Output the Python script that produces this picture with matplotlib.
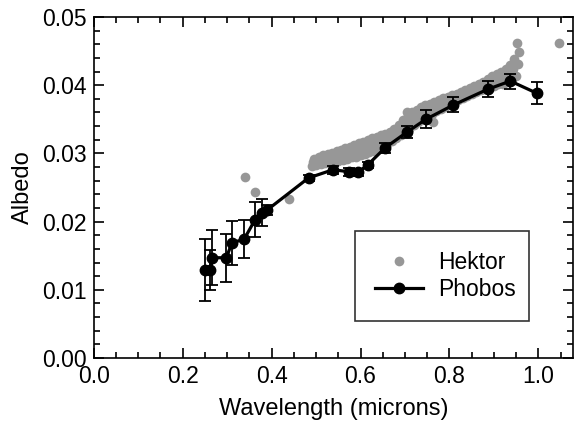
import matplotlib
matplotlib.use("Agg")
import matplotlib.pyplot as plt
from matplotlib.ticker import MultipleLocator

plt.rcParams["font.family"] = ["Liberation Sans", "DejaVu Sans"]

# Phobos spectrum with error bars
phobos_wl = [0.250, 0.262, 0.266, 0.298, 0.311, 0.338, 0.363, 0.378, 0.390,
             0.483, 0.538, 0.575, 0.594, 0.616, 0.655, 0.704, 0.747, 0.809,
             0.886, 0.937, 0.997]
phobos_alb = [0.0129, 0.0129, 0.0147, 0.0147, 0.0169, 0.0174, 0.0203, 0.0213,
              0.0217, 0.0264, 0.0276, 0.0273, 0.0272, 0.0283, 0.0308, 0.0331,
              0.0350, 0.0371, 0.0394, 0.0406, 0.0388]
phobos_err = [0.0046, 0.0030, 0.0040, 0.0035, 0.0032, 0.0028, 0.0026, 0.0020,
              0.0007, 0.0005, 0.0006, 0.0006, 0.0005, 0.0005, 0.0007, 0.0009,
              0.0013, 0.0011, 0.0012, 0.0011, 0.0016]

# Hektor spectrum: dense band read as lower / middle / upper rows
band_wl = [0.49, 0.50, 0.51, 0.52, 0.53, 0.54, 0.55, 0.56, 0.57, 0.58,
           0.59, 0.60, 0.61, 0.62, 0.63, 0.64, 0.65, 0.66, 0.67, 0.68,
           0.69, 0.70, 0.71, 0.72, 0.73, 0.74, 0.75, 0.76, 0.77, 0.78,
           0.79, 0.80, 0.81, 0.82, 0.83, 0.84, 0.85, 0.86, 0.87, 0.88,
           0.89, 0.90, 0.91, 0.92, 0.93, 0.94, 0.95]
band_low = [0.0282, 0.0283, 0.0285, 0.0286, 0.0287, 0.0288, 0.0289, 0.0291,
            0.0292, 0.0294, 0.0295, 0.0297, 0.0299, 0.0302, 0.0304, 0.0307,
            0.0310, 0.0314, 0.0318, 0.0322, 0.0327, 0.0331, 0.0336, 0.0341,
            0.0346, 0.0351, 0.0355, 0.0358, 0.0362, 0.0365, 0.0368, 0.0372,
            0.0375, 0.0378, 0.0381, 0.0384, 0.0387, 0.0390, 0.0393, 0.0395,
            0.0398, 0.0399, 0.0401, 0.0402, 0.0404, 0.0409, 0.0414]
band_mid = [0.0287, 0.0289, 0.0291, 0.0293, 0.0294, 0.0296, 0.0297, 0.0300,
            0.0301, 0.0303, 0.0305, 0.0307, 0.0309, 0.0312, 0.0314, 0.0317,
            0.0319, 0.0323, 0.0327, 0.0332, 0.0338, 0.0343, 0.0348, 0.0352,
            0.0357, 0.0361, 0.0364, 0.0367, 0.0370, 0.0373, 0.0376, 0.0378,
            0.0381, 0.0384, 0.0387, 0.0390, 0.0393, 0.0396, 0.0399, 0.0402,
            0.0405, 0.0408, 0.0410, 0.0413, 0.0417, 0.0424, 0.0431]
band_high = [0.0292, 0.0294, 0.0297, 0.0299, 0.0301, 0.0303, 0.0305, 0.0308,
             0.0310, 0.0313, 0.0315, 0.0317, 0.0320, 0.0322, 0.0324, 0.0327,
             0.0329, 0.0332, 0.0336, 0.0342, 0.0349, 0.0355, 0.0360, 0.0364,
             0.0368, 0.0371, 0.0373, 0.0376, 0.0378, 0.0381, 0.0383, 0.0385,
             0.0387, 0.0390, 0.0393, 0.0396, 0.0399, 0.0402, 0.0405, 0.0409,
             0.0413, 0.0416, 0.0419, 0.0423, 0.0429, 0.0439, 0.0448]
# isolated Hektor points
outlier_wl = [0.341, 0.363, 0.440, 0.704, 0.764, 0.951, 1.046]
outlier_alb = [0.0266, 0.0244, 0.0233, 0.0361, 0.0346, 0.0462, 0.0462]

hektor_wl = ([w for w in band_wl] + [w + 0.003 for w in band_wl]
             + [w + 0.006 for w in band_wl] + outlier_wl)
hektor_alb = band_low + band_mid + band_high + outlier_alb

fig = plt.figure(figsize=(5.86, 4.29), dpi=100)
ax = fig.add_axes([0.16, 0.1655, 0.818, 0.795])

ax.plot(hektor_wl, hektor_alb, "o", color="#979797", markersize=7,
        markeredgewidth=0, label="Hektor", zorder=2)
ax.errorbar(phobos_wl, phobos_alb, yerr=phobos_err, fmt="none",
            ecolor="black", elinewidth=1.3, capsize=4, capthick=1.3, zorder=3)
ax.plot(phobos_wl, phobos_alb, "-o", color="black", markersize=7.5,
        linewidth=2.3, label="Phobos", zorder=4)

ax.set_xlim(0, 1.078)
ax.set_ylim(0, 0.05)
ax.xaxis.set_major_locator(MultipleLocator(0.2))
ax.xaxis.set_minor_locator(MultipleLocator(0.05))
ax.yaxis.set_major_locator(MultipleLocator(0.01))
ax.yaxis.set_minor_locator(MultipleLocator(0.002))
ax.xaxis.set_major_formatter(plt.FormatStrFormatter("%.1f"))
ax.yaxis.set_major_formatter(plt.FormatStrFormatter("%.2f"))
ax.tick_params(which="both", direction="in", top=True, right=True,
               labelsize=16.5, width=1.2)
ax.tick_params(which="major", length=7, pad=5)
ax.tick_params(which="minor", length=4)
for s in ax.spines.values():
    s.set_linewidth(1.2)

ax.set_xlabel("Wavelength (microns)", fontsize=17, labelpad=7)
ax.set_ylabel("Albedo", fontsize=17, labelpad=6)

leg = ax.legend(loc="lower left", bbox_to_anchor=(0.546, 0.109, 0.362, 0.258),
                mode="expand", fontsize=16.5, frameon=True, fancybox=False,
                borderaxespad=0, handlelength=2.1, handletextpad=0.65,
                labelspacing=0.2, borderpad=0.85)
leg.get_frame().set_edgecolor("black")
leg.get_frame().set_linewidth(1.2)

fig.savefig("out.png", dpi=100)
